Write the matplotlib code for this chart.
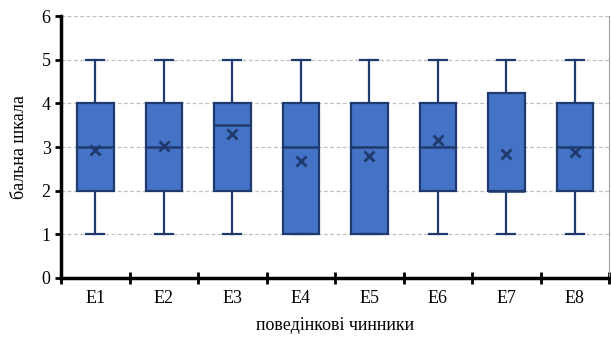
import numpy as np
import matplotlib.pyplot as plt

# data
labels = ['E1', 'E2', 'E3', 'E4', 'E5', 'E6', 'E7', 'E8']
whislo = [1, 1, 1, 1, 1, 1, 1, 1]
q1 = [2, 2, 2, 1, 1, 2, 2, 2]
med = [3, 3, 3.5, 3, 3, 3, 2, 3]
q3 = [4, 4, 4, 4, 4, 4, 4.25, 4]
whishi = [5, 5, 5, 5, 5, 5, 5, 5]
means = [2.93, 3.02, 3.29, 2.69, 2.79, 3.17, 2.85, 2.89]

plt.rcParams['font.family'] = ['Liberation Serif', 'DejaVu Serif']

fill = '#4472C4'
edge = '#1F3A6E'

stats = []
for i in range(len(labels)):
    stats.append(dict(label=labels[i], whislo=whislo[i], q1=q1[i], med=med[i],
                      q3=q3[i], whishi=whishi[i], mean=means[i], fliers=[]))

fig = plt.figure(figsize=(6.11, 3.44), dpi=100)
ax = fig.add_axes([0.1, 0.192, 0.897, 0.761])

ax.bxp(stats, positions=np.arange(1, 9), widths=0.53, patch_artist=True,
       showmeans=True, showfliers=False,
       boxprops=dict(facecolor=fill, edgecolor=edge, linewidth=1.6),
       medianprops=dict(color=edge, linewidth=1.8),
       whiskerprops=dict(color=edge, linewidth=1.6),
       capprops=dict(color=edge, linewidth=1.6),
       meanprops=dict(marker='x', markeredgecolor=edge, markersize=7, markeredgewidth=2))

ax.set_xlim(0.5, 8.5)
ax.set_ylim(0, 6)
ax.set_yticks(range(0, 7))
ax.set_xticks(np.arange(1, 9))
ax.set_xticklabels(labels)
ax.set_xticks(np.arange(0.5, 9), minor=True)
ax.tick_params(axis='x', which='major', length=0, pad=9, labelsize=13)
ax.tick_params(axis='x', which='minor', direction='inout', length=8, width=2)
ax.tick_params(axis='y', direction='out', length=4, width=2, labelsize=13)

ax.yaxis.grid(True, linestyle=(0, (3, 2)), color='#c0c0c0', linewidth=0.9)
ax.set_axisbelow(True)

ax.spines['left'].set_linewidth(2.5)
ax.spines['bottom'].set_linewidth(2.5)
ax.spines['top'].set_visible(False)
ax.spines['right'].set_color('#a0a0a0')
ax.spines['right'].set_linewidth(0.8)

ax.set_ylabel('бальна шкала', fontsize=13, labelpad=10)
ax.set_xlabel('поведінкові чинники', fontsize=13, labelpad=7)

fig.savefig('out.png', dpi=100)
